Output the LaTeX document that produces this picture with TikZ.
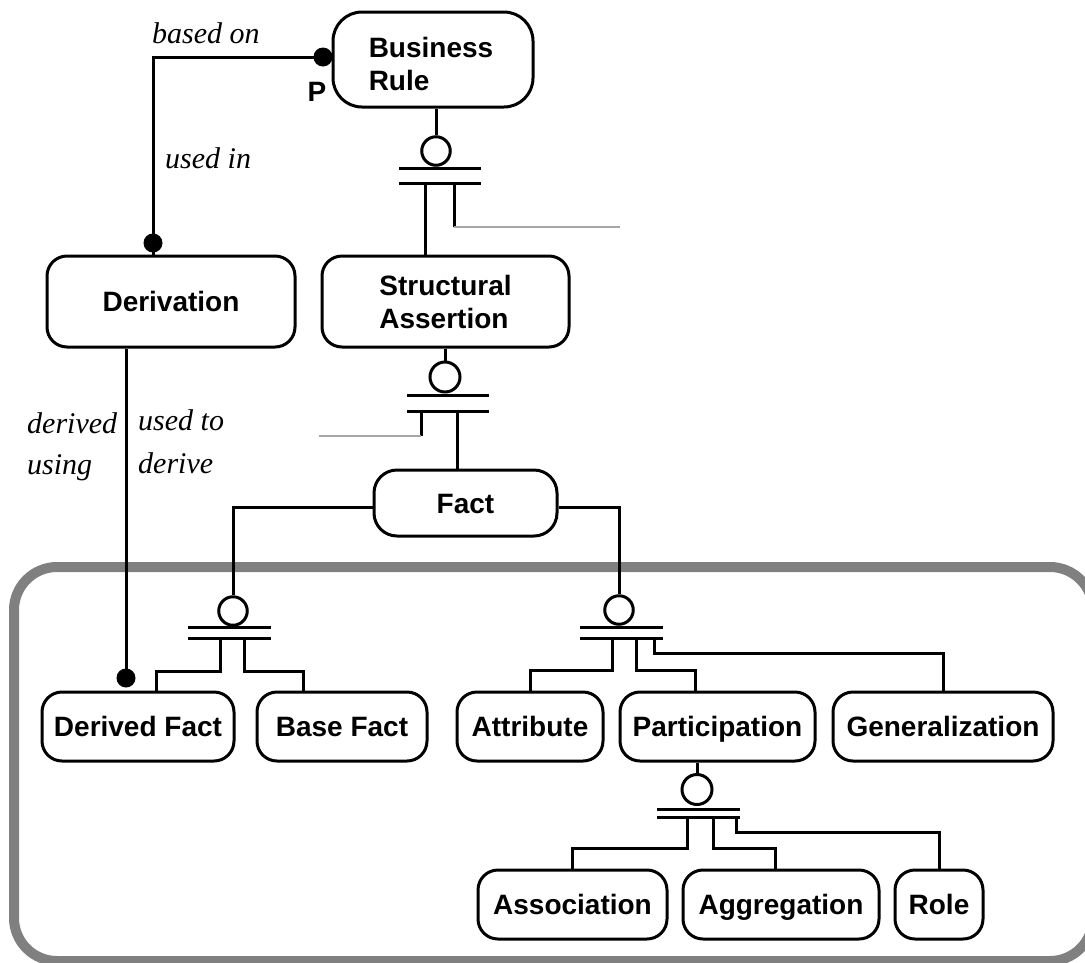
\documentclass[tikz,border=0pt]{standalone}
\usepackage{fontspec}
\setmainfont{Liberation Sans}
\newfontfamily\labelfont{Liberation Serif}
\usetikzlibrary{calc}
\definecolor{framegray}{RGB}{128,128,128}
\definecolor{stubgray}{RGB}{166,166,166}

\begin{document}
\begin{tikzpicture}[x=1pt,y=-1pt,
  entbox/.style={draw=black, line width=3pt, rounded corners=20pt, inner sep=0pt,
    font=\fontsize{28}{33}\selectfont\bfseries},
  oneline/.style={text height=20pt, text depth=0pt},
  boldtext/.style={inner sep=0pt, font=\fontsize{28}{33}\selectfont\bfseries},
  link/.style={line width=3pt, draw=black},
  stub/.style={line width=2.5pt, draw=stubgray},
  hub/.style={circle, draw=black, line width=3pt, inner sep=0pt, minimum size=28.5pt},
  dot/.style={circle, fill=black, inner sep=0pt, minimum size=19pt},
  rolename/.style={inner sep=0pt, anchor=base west,
    font=\labelfont\itshape\fontsize{30}{36}\selectfont},
]
\useasboundingbox (0,0) rectangle (1085,962);

% grey frame around the fact subtypes
\begin{scope}
  \clip (0,0) rectangle (1085,962);
  \draw[draw=framegray, line width=10pt, rounded corners=43pt] (14,567) rectangle (1093,961);
\end{scope}

% entities
\node[entbox, minimum width=200pt, minimum height=95pt, rounded corners=29pt] (rule) at (433,59.5) {};
\node[boldtext, align=left] (ruletext) at (431,63.7) {Business\\Rule};
\node[entbox, oneline, minimum width=248pt, minimum height=91pt] (deriv) at (171,301.5) {Derivation};
\node[entbox, align=left, minimum width=247pt, minimum height=91pt] (sa) at (445.5,301.5) {Structural\\Assertion};
\node[entbox, oneline, minimum width=183pt, minimum height=66pt, rounded corners=23pt] (fact) at (465.5,503) {Fact};
\node[entbox, oneline, minimum width=192pt, minimum height=69pt] (dfact) at (138,726.5) {Derived Fact};
\node[entbox, oneline, minimum width=170pt, minimum height=69pt] (bfact) at (342,726.5) {Base Fact};
\node[entbox, oneline, minimum width=146pt, minimum height=69pt] (attr) at (530,726.5) {Attribute};
\node[entbox, oneline, minimum width=195pt, minimum height=69pt] (part) at (717.5,726.5) {Participation};
\node[entbox, oneline, minimum width=220pt, minimum height=69pt] (gen) at (943,726.5) {Generalization};
\node[entbox, oneline, minimum width=189pt, minimum height=69pt] (assoc) at (572.5,904.5) {Association};
\node[entbox, oneline, minimum width=196pt, minimum height=69pt] (aggr) at (781,904.5) {Aggregation};
\node[entbox, oneline, minimum width=88pt, minimum height=69pt] (role) at (939,904.5) {Role};

% relationship Business Rule -- Derivation
\node[dot] (dotrule) at (323,57) {};
\node[dot] (dotderiv) at (153,243) {};
\coordinate (bendrule) at (153,57);
\draw[link] (dotrule.center) -- (bendrule) -- (dotderiv.center) -- (dotderiv |- deriv.north);
\node[boldtext, oneline] (pmark) at (317,91) {P};

% relationship Derivation -- Derived Fact
\node[dot] (dotdfact) at (126,678) {};
\draw[link] (dotdfact |- deriv.south) -- (dotdfact.center);

% role names
\node[rolename] (lbased) at (152,43) {based on};
\node[rolename] (lusedin) at (165,168) {used in};
\node[rolename] (lderived) at (27,433) {derived};
\node[rolename] (lusing) at (27,474) {using};
\node[rolename] (lusedto) at (138,430) {used to};
\node[rolename] (lderive) at (138,473) {derive};

% subtypes of Business Rule
\node[hub] (hubrule) at (436,151) {};
\draw[link] (hubrule |- rule.south) -- (hubrule.north);
\draw[link] (399,168) -- (481,168);
\draw[link] (399,183) -- (481,183);
\coordinate (brA) at (425,183);
\draw[link] (brA) -- (brA |- sa.north);
\coordinate (brB) at (454,183);
\coordinate (brBend) at (454,227);
\coordinate (brEnd) at (620,227);
\draw[link] (brB) -- (brBend);
\draw[stub] (brBend) -- (brEnd);

% subtypes of Structural Assertion
\node[hub, minimum size=30pt] (hubsa) at (445,377) {};
\draw[link] (hubsa |- sa.south) -- (hubsa.north);
\draw[link] (407,395) -- (489,395);
\draw[link] (407,411) -- (489,411);
\coordinate (saA) at (421,411);
\coordinate (saBend) at (421,436);
\coordinate (saEnd) at (319,436);
\draw[link] (saA) -- (saBend);
\draw[stub] (saBend) -- (saEnd);
\coordinate (saB) at (457,411);
\draw[link] (saB) -- (saB |- fact.north);

% Fact: derived / base
\node[hub] (hubfl) at (233,611) {};
\draw[link] ([yshift=-4pt]fact.west) -| (hubfl.north);
\draw[link] (188,627) -- (271,627);
\draw[link] (188,638) -- (271,638);
\coordinate (flA) at (156,671);
\coordinate (flB) at (303,671);
\draw[link] (220,638) -- (220,671) -- (flA) -- (flA |- dfact.north);
\draw[link] (244,638) -- (244,671) -- (flB) -- (flB |- bfact.north);

% Fact: attribute / participation / generalization
\node[hub] (hubfr) at (619,610) {};
\draw[link] ([yshift=-4pt]fact.east) -| (hubfr.north);
\draw[link] (580,627.5) -- (663,627.5);
\draw[link] (580,638) -- (663,638);
\coordinate (frB) at (695,670);
\draw[link] (612,638) -- (612,670) -| (attr.north);
\draw[link] (636,638) -- (636,670) -- (frB) -- (frB |- part.north);
\draw[link] (654,638) -- (654,653) -| (gen.north);

% Participation: association / aggregation / role
\node[hub, minimum size=30pt] (hubpart) at (697,789.5) {};
\draw[link] (hubpart |- part.south) -- (hubpart.north);
\draw[link] (657,809) -- (740,809);
\draw[link] (657,817) -- (740,817);
\coordinate (ptB) at (775,848);
\draw[link] (687,817) -- (687,848) -| (assoc.north);
\draw[link] (713,817) -- (713,848) -- (ptB) -- (ptB |- aggr.north);
\draw[link] (736,817) -- (736,832) -| (role.north);
\end{tikzpicture}
\end{document}
